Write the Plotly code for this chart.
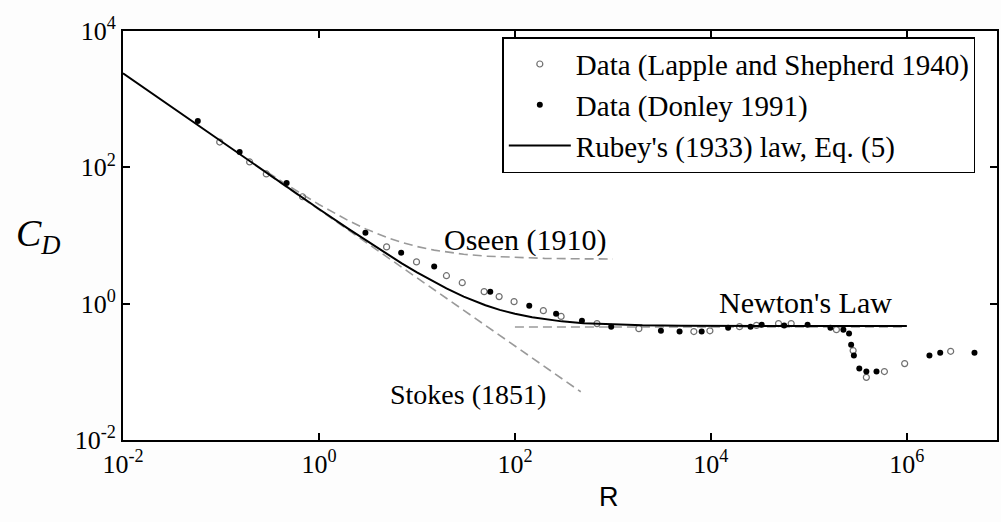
import plotly.graph_objects as go

# Lapple and Shepherd 1940 (open circles)
lapple_R = [0.097, 0.196, 0.29, 0.68, 4.9, 9.9, 20, 29, 48.5, 69, 98, 195, 296, 688, 1840,
            6700, 9770, 19600, 29200, 49000, 66000, 191000, 283000, 386000, 590000, 950000, 2.8e6]
lapple_C = [235, 120, 80, 37, 6.8, 4.1, 2.57, 2.03, 1.5, 1.27, 1.07, 0.79, 0.65, 0.51, 0.43,
            0.39, 0.40, 0.46, 0.48, 0.51, 0.51, 0.416, 0.205, 0.083, 0.101, 0.132, 0.20]

# Donley 1991 (filled dots)
donley_R = [0.058, 0.155, 0.468, 2.98, 6.9, 15, 56, 140, 263, 483, 960, 3090, 4790, 8050,
            15000, 25400, 33000, 56000, 97000, 166000, 225000, 257000, 270000, 288000, 327000,
            386000, 490000, 1.7e6, 2.19e6, 4.9e6]
donley_C = [479, 168, 59, 11.0, 5.6, 3.5, 1.5, 0.93, 0.71, 0.56, 0.46, 0.40, 0.39, 0.39,
            0.445, 0.46, 0.49, 0.48, 0.49, 0.445, 0.416, 0.364, 0.25, 0.173, 0.112,
            0.101, 0.101, 0.173, 0.19, 0.19]

# Rubey's (1933) law, Eq. (5)
rubey_R = [0.01, 0.02, 0.05, 0.1, 0.2, 0.5, 1, 2, 3, 5, 7, 10, 15, 20, 30, 50, 70, 100, 150,
           200, 300, 500, 1000, 2000, 5000, 1e4, 1e5, 1e6]
rubey_C = [2400.5, 1200.5, 480.5, 240.5, 120.5, 48.5, 24.5, 12.5, 8.5, 5.27, 3.9, 2.87, 2.07,
           1.67, 1.27, 0.95, 0.81, 0.71, 0.63, 0.59, 0.55, 0.518, 0.494, 0.482, 0.475, 0.472,
           0.47, 0.47]

# Oseen (1910)
oseen_R = [0.3, 0.5, 1, 2, 3, 5, 7, 10, 15, 20, 30, 50, 100, 200, 500, 1000]
oseen_C = [84.5, 52.5, 28.5, 16.5, 12.5, 9.3, 7.93, 6.9, 6.1, 5.7, 5.3, 4.98, 4.74, 4.62,
           4.548, 4.524]

# Stokes (1851)
stokes_R = [0.3, 470]
stokes_C = [80, 0.051]

# Newton's Law
newton_R = [100, 1e6]
newton_C = [0.455, 0.455]

x_ticks = [0.01, 1, 100, 1e4, 1e6]
x_tick_text = ["10<sup>-2</sup>", "10<sup>0</sup>", "10<sup>2</sup>", "10<sup>4</sup>", "10<sup>6</sup>"]
y_ticks = [0.01, 1, 100, 1e4]
y_tick_text = ["10<sup>-2</sup>", "10<sup>0</sup>", "10<sup>2</sup>", "10<sup>4</sup>"]

SERIF = "Liberation Serif, Times New Roman, serif"
DASH = dict(color="#9a9a9a", width=1.6, dash="9px,5px")

fig = go.Figure()
fig.add_trace(go.Scatter(x=stokes_R, y=stokes_C, mode="lines", line=DASH, showlegend=False))
fig.add_trace(go.Scatter(x=oseen_R, y=oseen_C, mode="lines", line=DASH, showlegend=False))
fig.add_trace(go.Scatter(x=newton_R, y=newton_C, mode="lines", line=DASH, showlegend=False))
fig.add_trace(go.Scatter(x=lapple_R, y=lapple_C, mode="markers",
                         name="Data (Lapple and Shepherd 1940)",
                         marker=dict(symbol="circle-open", size=6, color="#707070",
                                     line=dict(width=1.2, color="#707070"))))
fig.add_trace(go.Scatter(x=donley_R, y=donley_C, mode="markers", name="Data (Donley 1991)",
                         marker=dict(symbol="circle", size=6, color="black")))
fig.add_trace(go.Scatter(x=rubey_R, y=rubey_C, mode="lines",
                         name="Rubey's (1933) law, Eq. (5)",
                         line=dict(color="black", width=2)))

axis_common = dict(type="log", showline=True, linecolor="black", linewidth=2, mirror="allticks",
                   ticks="inside", ticklen=7, tickwidth=2, tickcolor="black", showgrid=False,
                   zeroline=False, tickfont=dict(family=SERIF, size=26, color="black"))
fig.update_xaxes(range=[-2, 6.92], tickvals=x_ticks, ticktext=x_tick_text, **axis_common)
fig.update_yaxes(range=[-2, 4], tickvals=y_ticks, ticktext=y_tick_text, **axis_common)

fig.add_annotation(text="Oseen (1910)", x=2.1, y=0.94, xref="x", yref="y", showarrow=False,
                   font=dict(family=SERIF, size=30, color="black"))
fig.add_annotation(text="Newton's Law", x=4.97, y=0.01, xref="x", yref="y", showarrow=False,
                   yanchor="middle", font=dict(family=SERIF, size=30, color="black"))
fig.add_annotation(text="Stokes (1851)", x=1.52, y=-1.33, xref="x", yref="y", showarrow=False,
                   font=dict(family=SERIF, size=28, color="black"))
fig.add_annotation(text="<i>C</i><sub><i>D</i></sub>", x=38, y=522 - 236, xref="paper",
                   yref="paper", showarrow=False, xanchor="center", yanchor="middle",
                   font=dict(family=SERIF, size=38, color="black"))
fig.add_annotation(text="R", x=610, y=522 - 497, xref="paper", yref="paper", showarrow=False,
                   xanchor="center", yanchor="middle",
                   font=dict(family="Liberation Sans, Arial, sans-serif", size=27, color="black"))

fig.update_layout(
    width=1001, height=522,
    margin=dict(l=123, r=2, t=31, b=82),
    paper_bgcolor="#fdfdfd", plot_bgcolor="white",
    legend=dict(x=0.434, y=0.985, xanchor="left", yanchor="top", bgcolor="white",
                bordercolor="black", borderwidth=1.5, tracegroupgap=0, itemwidth=62,
                font=dict(family=SERIF, size=29, color="black")),
)
# annotations with paper coords in pixels -> convert
for a in fig.layout.annotations:
    if a.xref == "paper":
        a.x = (a.x - 123) / (1001 - 123 - 2)
        a.y = (a.y - 82) / (522 - 31 - 82)

fig.write_html("out.html")
